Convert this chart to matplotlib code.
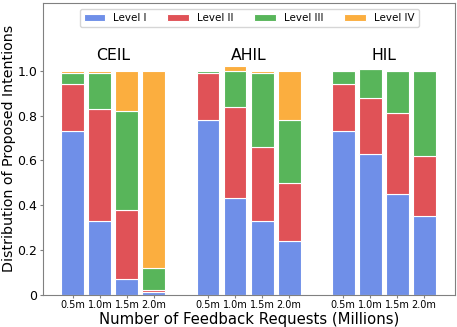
import numpy as np
import matplotlib
matplotlib.use("Agg")
import matplotlib.pyplot as plt

# Methods and feedback budgets
methods = ["CEIL", "AHIL", "HIL"]
budgets = ["0.5m", "1.0m", "1.5m", "2.0m"]
levels = ["Level I", "Level II", "Level III", "Level IV"]

# Share of proposed intentions per level (per method, per budget)
level1 = [0.73, 0.33, 0.07, 0.01,   0.78, 0.43, 0.33, 0.24,   0.73, 0.63, 0.45, 0.35]
level2 = [0.21, 0.50, 0.31, 0.01,   0.21, 0.41, 0.33, 0.26,   0.21, 0.25, 0.36, 0.27]
level3 = [0.05, 0.16, 0.44, 0.10,   0.01, 0.16, 0.33, 0.28,   0.06, 0.13, 0.19, 0.38]
level4 = [0.01, 0.01, 0.18, 0.88,   0.00, 0.02, 0.01, 0.22,   0.00, 0.00, 0.00, 0.00]

colors = ["#6F8FE8", "#E05257", "#58B55A", "#FBAE3F"]

# bar positions: 4 bars per group, one empty slot between groups
x = []
for g in range(len(methods)):
    x += [g * 5 + i for i in range(len(budgets))]
x = np.array(x)

fig = plt.figure(figsize=(4.57, 3.27), dpi=100)
ax = fig.add_axes([0.094, 0.099, 0.902, 0.892])

bottom = np.zeros(len(x))
for vals, lab, col in zip([level1, level2, level3, level4], levels, colors):
    ax.bar(x, vals, width=0.85, bottom=bottom, color=col, edgecolor="white",
           linewidth=0.8, label=lab)
    bottom += np.array(vals)

# method names above each group
for g, m in enumerate(methods):
    ax.text(g * 5 + 1.5, 1.07, m, ha="center", va="center", fontsize=11.3)

ax.set_xticks(x)
ax.set_xticklabels(budgets * len(methods), fontsize=7)
ax.set_yticks([0, 0.2, 0.4, 0.6, 0.8, 1.0])
ax.set_yticklabels(["0", "0.2", "0.4", "0.6", "0.8", "1.0"], fontsize=9)
ax.tick_params(axis="both", length=2, color="gray", pad=2)
ax.set_xlim(-1.11, 14.15)
ax.set_ylim(0, 1.304)

for s in ax.spines.values():
    s.set_color("gray")

ax.set_ylabel("Distribution of Proposed Intentions", fontsize=10.3, labelpad=1)
ax.set_xlabel("Number of Feedback Requests (Millions)", fontsize=10.7, labelpad=1)

ax.legend(loc="upper center", ncol=4, fontsize=7.4, frameon=True,
          borderaxespad=0.55, columnspacing=2.0, handlelength=2.1,
          handletextpad=0.8)

fig.savefig("out.png", dpi=100)
